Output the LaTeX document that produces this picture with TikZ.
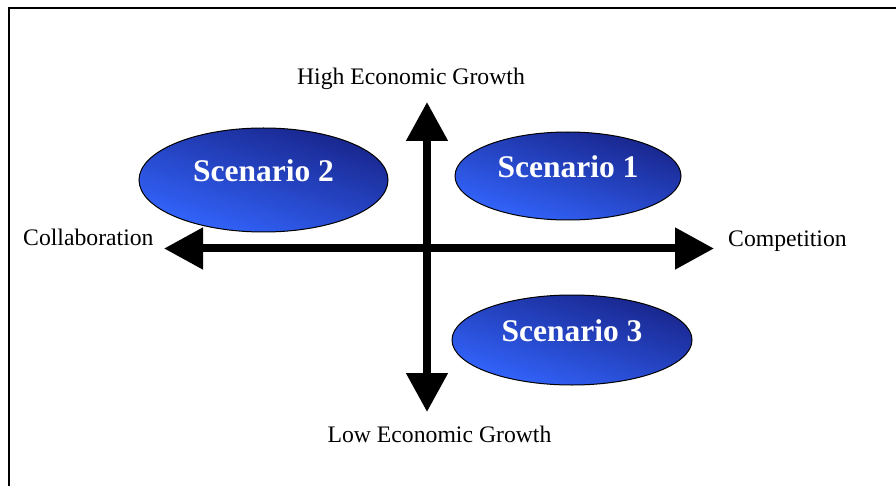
\documentclass[tikz,border=0pt]{standalone}
\usepackage{xcolor}
\usepackage{tikz}
\usepackage{fontspec}
\setmainfont{Liberation Serif}
\usetikzlibrary{shapes.geometric,arrows.meta,positioning}
\definecolor{scenariodark}{HTML}{18248A}
\definecolor{scenariolight}{HTML}{3366FF}

\tikzset{
  axisline/.style={line width=8pt, {Triangle[length=39pt,width=40pt]}-{Triangle[length=39pt,width=40pt]}},
  axislabel/.style={anchor=base, inner sep=0pt, font=\fontsize{23.7}{28}\selectfont},
  scenario/.style={ellipse, draw=black, line width=1pt, shading=axis,
    top color=scenariodark, bottom color=scenariolight, shading angle=-18,
    text=white, font=\fontsize{31.5}{36}\selectfont\bfseries, inner sep=0pt, text depth=18pt}
}

\begin{document}
\begin{tikzpicture}[x=1pt,y=-1pt]
    \useasboundingbox (0,0) rectangle (896,486);
    % Frame
    \draw[line width=2pt] (9,486) -- (9,8) -- (896,8);

    % Axes
    \coordinate (west) at (164,248.5);
    \coordinate (east) at (714,248.5);
    \coordinate (north) at (427,102);
    \coordinate (south) at (427,412);
    \draw[axisline] (west) -- (east);
    \draw[axisline] (south) -- (north);

    % Axis labels
    \node[axislabel] (high) at (411,85) {High Economic Growth};
    \node[axislabel] (low) at (439.5,442) {Low Economic Growth};
    \node[axislabel, anchor=base west] (collab) at (23,245) {Collaboration};
    \node[axislabel, anchor=base west] (compet) at (728,247) {Competition};

    % Scenarios
    \node[scenario, minimum width=249pt, minimum height=104pt] (scen2) at (263.5,180) {Scenario 2};
    \node[scenario, minimum width=226pt, minimum height=88pt] (scen1) at (568,176) {Scenario 1};
    \node[scenario, minimum width=240pt, minimum height=90pt] (scen3) at (572,340) {Scenario 3};
\end{tikzpicture}
\end{document}
